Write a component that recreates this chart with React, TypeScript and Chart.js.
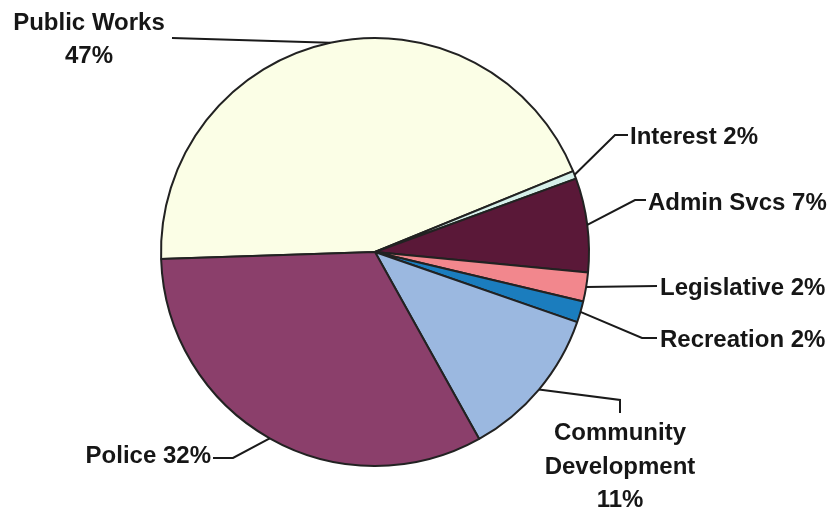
import React, { useEffect, useRef } from "react";
import { Chart, registerables } from "chart.js";

Chart.register(...registerables);

const categories = ["Public Works", "Interest", "Admin Svcs", "Legislative", "Recreation", "Community Development", "Police"];
const values = [44.4, 0.6, 7.1, 2.2, 1.6, 11.6, 32.6];
const labelTexts = [["Public Works", "47%"], ["Interest 2%"], ["Admin Svcs 7%"], ["Legislative 2%"], ["Recreation 2%"], ["Community", "Development", "11%"], ["Police 32%"]];
const colors = ["#FBFEE6", "#D6F0EA", "#5A1838", "#F2878D", "#1B7DBE", "#9BB8E0", "#8B3F6B"];

// label layout: leader elbow points, text anchor x, baselines, alignment
const labelLayout = [
  { pts: [[172, 38]], x: 89, ys: [30, 63], align: "center" },
  { pts: [[615, 135], [628, 135]], x: 630, ys: [144], align: "left" },
  { pts: [[635, 200], [646, 200]], x: 648, ys: [210], align: "left" },
  { pts: [[657, 286]], x: 660, ys: [295], align: "left" },
  { pts: [[642, 338], [657, 338]], x: 660, ys: [347], align: "left" },
  { pts: [[620, 400], [620, 413]], x: 620, ys: [440, 474, 507], align: "center" },
  { pts: [[233, 458], [213, 458]], x: 211, ys: [463], align: "right" },
];

const labelPlugin = {
  id: "leaderLabels",
  afterDraw(chart: any) {
    const ctx = chart.ctx;
    const meta = chart.getDatasetMeta(0);
    ctx.save();
    meta.data.forEach((arc: any, i: number) => {
      const p = arc.getProps(["x", "y", "startAngle", "endAngle", "outerRadius"], true);
      const mid = (p.startAngle + p.endAngle) / 2;
      const ax = p.x + Math.cos(mid) * p.outerRadius;
      const ay = p.y + Math.sin(mid) * p.outerRadius;
      const lay = labelLayout[i];
      ctx.beginPath();
      ctx.moveTo(ax, ay);
      lay.pts.forEach((pt) => ctx.lineTo(pt[0], pt[1]));
      ctx.strokeStyle = "#1a1a1a";
      ctx.lineWidth = 2;
      ctx.stroke();
      ctx.fillStyle = "#161616";
      ctx.font = "bold 24px 'Liberation Sans', Arial, sans-serif";
      ctx.textAlign = lay.align;
      ctx.textBaseline = "alphabetic";
      labelTexts[i].forEach((t, k) => ctx.fillText(t, lay.x, lay.ys[k]));
    });
    ctx.restore();
  },
};

export default function App() {
  const ref = useRef<HTMLCanvasElement>(null);
  useEffect(() => {
    document.body.style.margin = "0";
    const chart = new Chart(ref.current!, {
      type: "pie",
      data: {
        labels: categories,
        datasets: [
          {
            data: values,
            backgroundColor: colors,
            borderColor: "#222222",
            borderWidth: 2,
          },
        ],
      },
      options: {
        animation: false,
        responsive: false,
        rotation: 268.1,
        layout: { padding: { left: 160, right: 244, top: 37, bottom: 45 } },
        plugins: { legend: { display: false }, tooltip: { enabled: false } },
      },
      plugins: [labelPlugin],
    });
    return () => chart.destroy();
  }, []);
  return (
    <div style={{ width: 834, height: 512, background: "#fff" }}>
      <canvas ref={ref} width={834} height={512} style={{ width: 834, height: 512 }} />
    </div>
  );
}
